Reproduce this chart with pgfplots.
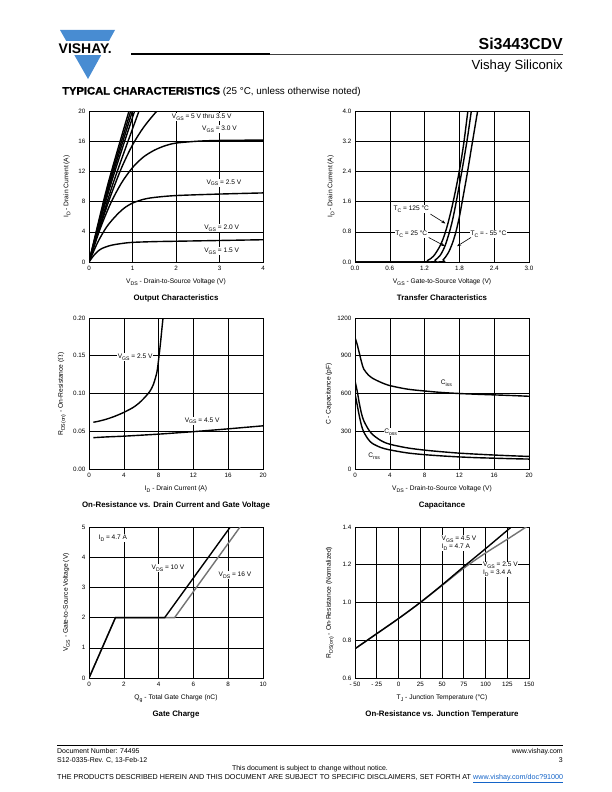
\documentclass[border=0pt]{standalone}
\usepackage{fontspec}
\setmainfont{Liberation Sans}
\newfontfamily\blackfont[FakeBold=1.0,FakeStretch=1.04]{Liberation Sans Bold}
\usepackage{graphicx}
\usepackage{pgfplots}
\pgfplotsset{compat=1.18}
\usetikzlibrary{arrows.meta}
\definecolor{vblue}{RGB}{72,140,210}
\definecolor{lgray}{RGB}{115,115,115}
\definecolor{linkblue}{RGB}{20,100,200}
\newcommand{\sub}[1]{\raisebox{-0.28em}{\scalebox{0.78}{#1}}}
\newcommand{\sm}{\fontsize{6.3}{7}\selectfont}
\newcommand{\lsm}{\fontsize{6.6}{7.2}\selectfont}
\newcommand{\lb}{\fontsize{6.7}{7.5}\selectfont}
\newcommand{\ttl}{\fontsize{7.9}{9}\selectfont\bfseries}
\newcommand{\ft}{\fontsize{7}{8}\selectfont}
\tikzset{lab/.style={fill=white, inner sep=0.8bp, font=\lsm}}
\pgfplotsset{
 ds/.style={scale only axis, width=174bp, height=151bp, anchor=south west,
  axis line style={line width=0.8bp},
  grid=major, major grid style={line width=0.6bp, black},
  major tick length=0pt,
  tick label style={font=\sm, text=black},
  xticklabel style={inner sep=1pt, yshift=-2.5bp},
  yticklabel style={inner sep=1pt, xshift=-2.5bp},
  every axis plot/.append style={line width=1.4bp, black, mark=none},
 },
}
\begin{document}
\begin{tikzpicture}[x=1bp,y=1bp]
\fill[white] (0,0) rectangle (612,-792);
\path[use as bounding box] (0,0) rectangle (612,-792);
% ---------- header ----------
\fill[vblue] (60,-30) -- (115,-30) -- (88,-79) -- cycle;
\fill[white] (54,-41.5) rectangle (121,-55.5);
\node[anchor=base west, inner sep=0, font=\fontsize{14}{14}\selectfont\bfseries] at (58.5,-53.3) {VISHAY.};
\draw[line width=1.1bp, black] (131,-54) -- (270,-54);
\draw[line width=0.8bp, black!75] (270,-54) -- (563,-54);
\node[anchor=base east, inner sep=0, font=\fontsize{16}{16}\selectfont\bfseries] at (563,-50) {Si3443CDV};
\node[anchor=base east, inner sep=0, font=\fontsize{13.2}{13}\selectfont] at (563,-70) {Vishay Siliconix};
\node[anchor=base west, inner sep=0] at (62,-94.5) {{\fontsize{10.8}{11}\selectfont\blackfont TYPICAL CHARACTERISTICS} {\fontsize{9.9}{10}\selectfont (25 °C, unless otherwise noted)}};

% ---------- Plot 1: Output characteristics ----------
\begin{axis}[ds, at={(89bp,-262bp)}, xmin=0, xmax=4, ymin=0, ymax=20,
  xtick={0,1,2,3,4}, xticklabels={0,1,2,3,4},
  ytick={0,4,8,12,16,20}, yticklabels={0,4,8,12,16,20}]
\addplot[smooth] coordinates {(0,0) (0.1,0.8) (0.2,1.4) (0.3,1.8) (0.5,2.2) (0.75,2.45) (1,2.6) (1.5,2.7) (2,2.75) (3,2.85) (4,2.95)};
\addplot[smooth] coordinates {(0,0) (0.2,2.6) (0.4,4.6) (0.6,6.0) (0.8,7.1) (1.0,7.8) (1.25,8.3) (1.5,8.55) (2,8.8) (3,9.0) (4,9.15)};
\addplot[smooth] coordinates {(0,0) (0.25,4.3) (0.5,7.8) (0.75,10.5) (1.0,12.5) (1.25,13.9) (1.5,14.8) (1.75,15.4) (2.0,15.75) (2.5,16.0) (3,16.1) (4,16.15)};
\addplot[smooth] coordinates {(0,0) (0.25,4.6) (0.5,8.8) (0.75,12.5) (1.0,15.5) (1.25,17.8) (1.5,19.6) (1.6,20.2)};
\addplot[smooth] coordinates {(0,0) (0.53,10) (1.15,20)};
\addplot[smooth] coordinates {(0,0) (0.485,10) (1.05,20)};
\addplot[smooth] coordinates {(0,0) (0.46,10) (1.0,20)};
\addplot[smooth] coordinates {(0,0) (0.44,10) (0.96,20)};
\addplot[smooth] coordinates {(0,0) (0.42,10) (0.92,20)};
\node[lab] at (axis cs:2.59,19.2) {V\sub{GS} = 5 V thru 3.5 V};
\node[lab] at (axis cs:3.0,17.6) {V\sub{GS} = 3.0 V};
\node[lab] at (axis cs:3.1,10.5) {V\sub{GS} = 2.5 V};
\node[lab] at (axis cs:3.05,4.5) {V\sub{GS} = 2.0 V};
\node[lab] at (axis cs:3.05,1.45) {V\sub{GS} = 1.5 V};
\end{axis}
\node[rotate=90, font=\lb] at (67,-186.5) {I\sub{D} - Drain Current (A)};
\node[font=\lb] at (176,-282.5) {V\sub{DS} - Drain-to-Source Voltage (V)};
\node[font=\ttl] at (176,-298) {Output Characteristics};

% ---------- Plot 2: Transfer characteristics ----------
\begin{axis}[ds, at={(355bp,-262bp)}, xmin=0, xmax=3, ymin=0, ymax=4,
  xtick={0,0.6,1.2,1.8,2.4,3.0}, xticklabels={0.0,0.6,1.2,1.8,2.4,3.0},
  ytick={0,0.8,1.6,2.4,3.2,4.0}, yticklabels={0.0,0.8,1.6,2.4,3.2,4.0}]
\addplot[smooth] coordinates {(0,0) (1.15,0) (1.25,0.04) (1.35,0.15) (1.45,0.38) (1.52,0.62) (1.58,0.9) (1.64,1.25) (1.70,1.65) (1.76,2.1) (1.82,2.6) (1.88,3.2) (1.95,4.05)};
\addplot[smooth] coordinates {(0,0) (1.28,0) (1.38,0.05) (1.47,0.18) (1.55,0.42) (1.62,0.75) (1.68,1.1) (1.74,1.55) (1.80,2.05) (1.87,2.65) (1.94,3.3) (2.01,4.05)};
\addplot[smooth] coordinates {(0,0) (1.42,0) (1.52,0.06) (1.61,0.25) (1.68,0.5) (1.74,0.8) (1.80,1.2) (1.86,1.7) (1.93,2.3) (2.0,2.95) (2.07,3.6) (2.12,4.05)};
\node[lab] at (axis cs:0.97,1.4) {T\sub{C} = 125 °C};
\node[lab] at (axis cs:0.97,0.74) {T\sub{C} = 25 °C};
\node[lab] at (axis cs:2.30,0.74) {T\sub{C} = - 55 °C};
\draw[line width=0.6bp, -{Stealth[length=4bp,width=3bp]}] (axis cs:1.30,1.27) -- (axis cs:1.56,1.02);
\draw[line width=0.6bp, -{Stealth[length=4bp,width=3bp]}] (axis cs:1.27,0.65) -- (axis cs:1.55,0.42);
\draw[line width=0.6bp, -{Stealth[length=4bp,width=3bp]}] (axis cs:2.00,0.65) -- (axis cs:1.76,0.42);
\end{axis}
\node[rotate=90, font=\lb] at (331,-186.5) {I\sub{D} - Drain Current (A)};
\node[font=\lb] at (442,-282.5) {V\sub{GS} - Gate-to-Source Voltage (V)};
\node[font=\ttl] at (442,-298) {Transfer Characteristics};

% ---------- Plot 3: On-resistance vs drain current ----------
\begin{axis}[ds, at={(89bp,-469bp)}, xmin=0, xmax=20, ymin=0, ymax=0.2,
  xtick={0,4,8,12,16,20}, xticklabels={0,4,8,12,16,20},
  ytick={0,0.05,0.10,0.15,0.20}, yticklabels={0.00,0.05,0.10,0.15,0.20}]
\addplot[smooth] coordinates {(0.5,0.0415) (2,0.0425) (4,0.0435) (6,0.0448) (8,0.0462) (10,0.0478) (12,0.0495) (14,0.0513) (16,0.0532) (18,0.0552) (20,0.0572)};
\addplot[smooth] coordinates {(0.5,0.062) (1,0.063) (2,0.066) (3,0.070) (4,0.075) (5,0.081) (5.5,0.085) (6,0.090) (6.5,0.096) (7,0.103) (7.4,0.112) (7.8,0.128) (8.0,0.145) (8.2,0.165) (8.4,0.188) (8.55,0.205)};
\node[lab] at (axis cs:5.3,0.148) {V\sub{GS} = 2.5 V};
\node[lab] at (axis cs:13.0,0.064) {V\sub{GS} = 4.5 V};
\end{axis}
\node[rotate=90, font=\lb] at (62,-394) {R\sub{DS(on)} - On-Resistance ($\Omega$)};
\node[font=\lb] at (176,-489.5) {I\sub{D} - Drain Current (A)};
\node[font=\ttl] at (176,-505) {On-Resistance vs. Drain Current and Gate Voltage};

% ---------- Plot 4: Capacitance ----------
\begin{axis}[ds, at={(355bp,-469bp)}, xmin=0, xmax=20, ymin=0, ymax=1200,
  xtick={0,4,8,12,16,20}, xticklabels={0,4,8,12,16,20},
  ytick={0,300,600,900,1200}, yticklabels={0,300,600,900,1200}]
\addplot[smooth] coordinates {(0,1045) (0.25,990) (0.5,920) (0.75,850) (1,795) (1.5,750) (2,722) (3,688) (4,663) (6,635) (8,620) (10,608) (12,600) (14,594) (16,589) (18,584) (20,578)};
\addplot[smooth] coordinates {(0,700) (0.25,620) (0.5,520) (0.75,440) (1,385) (1.5,320) (2,275) (3,225) (4,197) (6,168) (8,150) (10,137) (12,126) (14,118) (16,111) (18,105) (20,100)};
\addplot[smooth] coordinates {(0,600) (0.25,510) (0.5,420) (0.75,345) (1,295) (1.5,238) (2,203) (3,170) (4,152) (6,128) (8,114) (10,104) (12,96) (14,90) (16,86) (18,82) (20,79)};
\node[lab] at (axis cs:10.5,683) {C\sub{iss}};
\node[lab] at (axis cs:4.1,294) {C\sub{oss}};
\node[lab] at (axis cs:2.2,103) {C\sub{rss}};
\end{axis}
\node[rotate=90, font=\lb] at (329,-394) {C - Capacitance (pF)};
\node[font=\lb] at (442,-489.5) {V\sub{DS} - Drain-to-Source Voltage (V)};
\node[font=\ttl] at (442,-505) {Capacitance};

% ---------- Plot 5: Gate charge ----------
\begin{axis}[ds, at={(89bp,-678bp)}, xmin=0, xmax=10, ymin=0, ymax=5,
  xtick={0,2,4,6,8,10}, xticklabels={0,2,4,6,8,10},
  ytick={0,1,2,3,4,5}, yticklabels={0,1,2,3,4,5}]
\addplot[lgray] coordinates {(0,0) (1.52,2.0) (4.92,2.0) (8.68,5.0)};
\addplot[black] coordinates {(0,0) (1.52,2.0) (4.35,2.0) (8.12,5.0)};
\node[lab, anchor=west] at (axis cs:0.5,4.63) {I\sub{D} = 4.7 A};
\node[lab] at (axis cs:4.54,3.64) {V\sub{DS} = 10 V};
\node[lab] at (axis cs:8.39,3.41) {V\sub{DS} = 16 V};
\end{axis}
\node[rotate=90, font=\lb] at (66.5,-602.5) {V\sub{GS} - Gate-to-Source Voltage (V)};
\node[font=\lb] at (176,-698.5) {Q\sub{g} - Total Gate Charge (nC)};
\node[font=\ttl] at (176,-714) {Gate Charge};

% ---------- Plot 6: On-resistance vs junction temperature ----------
\begin{axis}[ds, at={(355bp,-678bp)}, xmin=-50, xmax=150, ymin=0.6, ymax=1.4,
  xtick={-50,-25,0,25,50,75,100,125,150}, xticklabels={- 50,- 25,0,25,50,75,100,125,150},
  ytick={0.6,0.8,1.0,1.2,1.4}, yticklabels={0.6,0.8,1.0,1.2,1.4}]
\addplot[lgray, smooth] coordinates {(-50,0.755) (-25,0.835) (0,0.915) (25,1.0) (50,1.09) (75,1.182) (100,1.262) (125,1.335) (150,1.41)};
\addplot[black, smooth] coordinates {(-50,0.755) (-25,0.835) (0,0.915) (25,1.0) (50,1.093) (75,1.19) (100,1.285) (125,1.382) (131,1.405)};
\node[lab, anchor=west, align=left] at (axis cs:48.5,1.315) {V\sub{GS} = 4.5 V\\[0.6bp]I\sub{D} = 4.7 A};
\node[lab, anchor=west, align=left] at (axis cs:96,1.175) {V\sub{GS} = 2.5 V\\[0.6bp]I\sub{D} = 3.4 A};
\end{axis}
\node[rotate=90, font=\lb] at (330,-602.5) {R\sub{DS(on)} - On-Resistance (Normalized)};
\node[font=\lb] at (442,-698.5) {T\sub{J} - Junction Temperature (°C)};
\node[font=\ttl] at (442,-714) {On-Resistance vs. Junction Temperature};

% ---------- footer ----------
\draw[line width=0.6bp] (57,-745.5) -- (563,-745.5);
\node[anchor=base west, inner sep=0, font=\ft] at (57,-753.5) {Document Number: 74495};
\node[anchor=base west, inner sep=0, font=\ft] at (57,-762.5) {S12-0335-Rev. C, 13-Feb-12};
\node[anchor=base east, inner sep=0, font=\ft] at (563,-753.5) {www.vishay.com};
\node[anchor=base east, inner sep=0, font=\ft] at (563,-762.5) {3};
\node[anchor=base, inner sep=0, font=\ft] at (310,-770.5) {This document is subject to change without notice.};
\node[anchor=base west, inner sep=0, font=\fontsize{7.2}{8}\selectfont] at (57,-779) {\makebox[506bp][s]{THE PRODUCTS DESCRIBED HEREIN AND THIS DOCUMENT ARE SUBJECT TO SPECIFIC DISCLAIMERS, SET FORTH AT \textcolor{linkblue}{\underline{www.vishay.com/doc?91000}}}};
\end{tikzpicture}
\end{document}
